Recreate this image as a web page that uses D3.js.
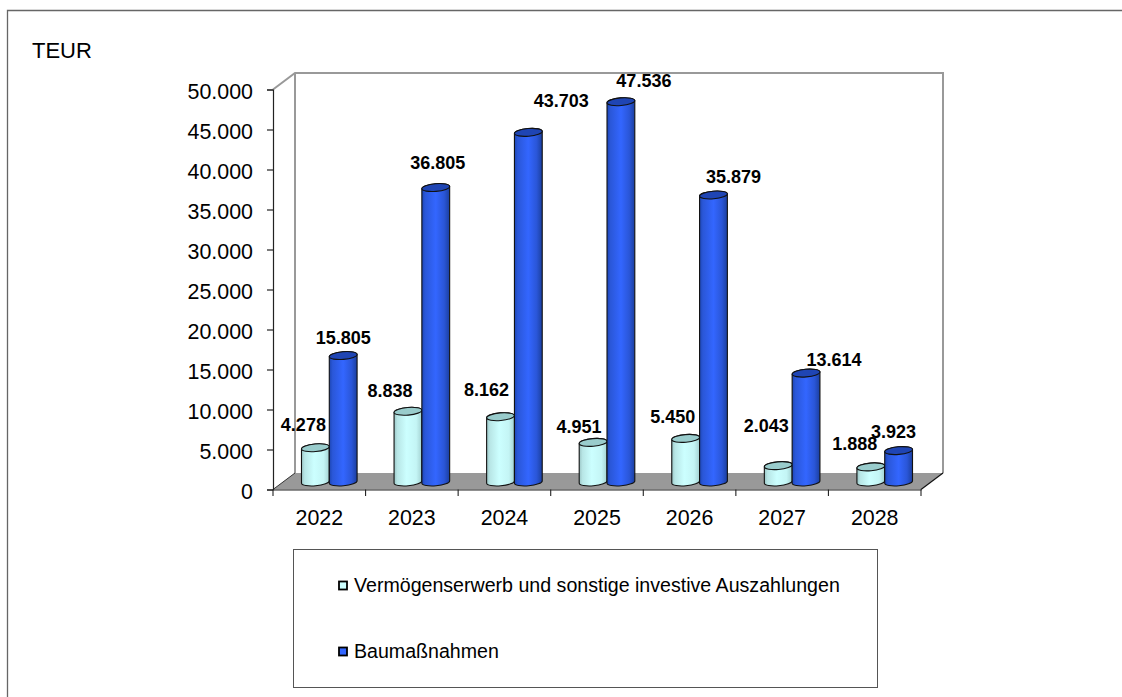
<!DOCTYPE html>
<html><head><meta charset="utf-8">
<script src="https://cdn.jsdelivr.net/npm/d3@7"></script>
<style>html,body{margin:0;padding:0;background:#fff}svg{display:block}text{font-family:"Liberation Sans",Arial,sans-serif;fill:#000}</style>
</head><body><svg id="c" width="1122" height="697"></svg>
<script>
const years = ["2022","2023","2024","2025","2026","2027","2028"];
const seriesNames = ["Vermögenserwerb und sonstige investive Auszahlungen","Baumaßnahmen"];
const investive = [4278,8838,8162,4951,5450,2043,1888];
const bau = [15805,36805,43703,47536,35879,13614,3923];
const yTicks = [0,5000,10000,15000,20000,25000,30000,35000,40000,45000,50000];
// hand placement of the data labels, relative to each bar top
const investiveLabelShift = [[-12,-23],[-18,-21],[-14,-27],[-14,-16],[-13,-22],[-12,-40],[-16,-23]];
const bauLabelShift = [[0,-18],[2,-25],[33,-32],[23,-21],[20,-18],[28,-13],[-5,-19]];

const svg = d3.select("#c");
const fmt = d3.formatLocale({decimal:",",thousands:".",grouping:[3],currency:["","€"]}).format(",");
const depthX = 22, depthY = 16.5, barW = 27.8, rY = 3.8, tilt = 1.2, floorLift = 7.5;
const x = d3.scaleBand().domain(years).range([273,921]);
const y = d3.scaleLinear().domain([0,50000]).range([489.5,89.5]);
const x0 = 273, x1 = 921, yB = y(0), yT = y(50000);

const defs = svg.append("defs");
function grad(id, stops){
  const g = defs.append("linearGradient").attr("id",id).attr("x1",0).attr("x2",1).attr("y1",0).attr("y2",0);
  stops.forEach(s=>g.append("stop").attr("offset",s[0]).attr("stop-color",s[1]));
}
grad("gL",[[0,"#9cc6c6"],[.12,"#b8e6e6"],[.45,"#ccffff"],[.8,"#c4f5f5"],[1,"#a4d2d2"]]);
grad("gD",[[0,"#1d46b4"],[.12,"#2a57d8"],[.5,"#3366ff"],[.8,"#2a56d8"],[1,"#1b3f9f"]]);

// outer frame
svg.append("path").attr("d","M7.5,697V10.5H1122").attr("fill","none").attr("stroke","#666").attr("stroke-width",1.3);
svg.append("text").attr("x",32).attr("y",58).attr("font-size",22).text("TEUR");

// walls and floor
const wallLine = d3.line();
svg.append("path").attr("d",wallLine([[x0,yB],[x1,yB],[x1+depthX,yB-depthY],[x0+depthX,yB-depthY]])+"Z").attr("fill","#999");
svg.append("path").attr("d",wallLine([[x0,yT],[x0+depthX,yT-depthY],[x1+depthX,yT-depthY],[x1+depthX,yB-depthY]])).attr("fill","none").attr("stroke","#999").attr("stroke-width",2);
svg.append("path").attr("d",wallLine([[x0+depthX,yT-depthY],[x0+depthX,yB-depthY]])).attr("stroke","#999").attr("stroke-width",2);
svg.append("path").attr("d",wallLine([[x0,yB],[x0+depthX,yB-depthY]])).attr("stroke","#333").attr("stroke-width",1);
svg.append("path").attr("d",wallLine([[x1,yB],[x1+depthX,yB-depthY]])).attr("stroke","#111").attr("stroke-width",1.2);

// axes
const yAxis = d3.axisLeft(y).tickValues(yTicks).tickFormat(fmt).tickSize(6).tickPadding(14);
const gy = svg.append("g").attr("transform",`translate(${x0},0)`).call(yAxis);
const xAxis = d3.axisBottom(x).tickSize(0).tickPadding(20);
const gx = svg.append("g").attr("transform",`translate(0,${yB})`).call(xAxis);
[gy,gx].forEach(g=>{g.selectAll("text").attr("font-size",21.4).attr("font-family",'"Liberation Sans"');
  g.selectAll("line,path").attr("stroke","#222").attr("stroke-width",1.2);});
gx.selectAll(".tick text").attr("dy","0.71em");
gy.selectAll(".tick text").attr("dy","0.41em");
svg.append("g").selectAll("line").data(d3.range(years.length+1)).join("line")
  .attr("x1",i=>x0+i*x.step()).attr("x2",i=>x0+i*x.step()).attr("y1",yB).attr("y2",yB+6.5)
  .attr("stroke","#222").attr("stroke-width",1.1);

// cylinders
const barsG = svg.append("g"), labelsG = svg.append("g");
function cyl(left, v, fill, topFill, label, shift){
  const right = left+barW, rx = barW/2;
  const base = y(0)-floorLift, top = y(v)-floorLift;
  const rot = -Math.atan2(2*tilt,barW)*180/Math.PI;
  const arc = (sw,px,py)=>`A${rx},${rY} ${rot} 0 ${sw} ${px},${py}`;
  barsG.append("path").attr("d",`M${left},${top+tilt}L${left},${base+tilt}${arc(0,right,base-tilt)}L${right},${top-tilt}${arc(0,left,top+tilt)}Z`)
    .attr("fill",fill).attr("stroke","#111").attr("stroke-width",1.1);
  barsG.append("path").attr("d",`M${left},${top+tilt}${arc(1,right,top-tilt)}${arc(1,left,top+tilt)}Z`)
    .attr("fill",topFill).attr("stroke","#111").attr("stroke-width",1.1);
  labelsG.append("text").attr("x",left+rx+shift[0]).attr("y",top+shift[1]).attr("dy","0.35em")
    .attr("text-anchor","middle").attr("font-size",18).attr("font-weight","bold").text(label);
}
years.forEach((yr,i)=>{
  const c = x(yr)+x.bandwidth()/2+10;
  cyl(c-barW, investive[i], "url(#gL)", "#99cccc", fmt(investive[i]), investiveLabelShift[i]);
  cyl(c, bau[i], "url(#gD)", "#1f45b4", fmt(bau[i]), bauLabelShift[i]);
});

// legend
svg.append("rect").attr("x",293.5).attr("y",549.5).attr("width",584).attr("height",138).attr("fill","#fff").attr("stroke","#555").attr("stroke-width",1);
const lg = svg.append("g").selectAll("g").data(seriesNames).join("g");
const legY = d3.scalePoint().domain(seriesNames).range([585.5,651.5]);
const legFill = d3.scaleOrdinal().domain(seriesNames).range(["#ccffff","#3366ff"]);
lg.append("rect").attr("x",339).attr("y",d=>legY(d)-4).attr("width",8).attr("height",8)
  .attr("fill",d=>legFill(d)).attr("stroke","#000").attr("stroke-width",1.8);
lg.append("text").attr("x",354).attr("y",d=>legY(d)).attr("dy","0.35em").attr("font-size",19.6).text(d=>d);
</script></body></html>
